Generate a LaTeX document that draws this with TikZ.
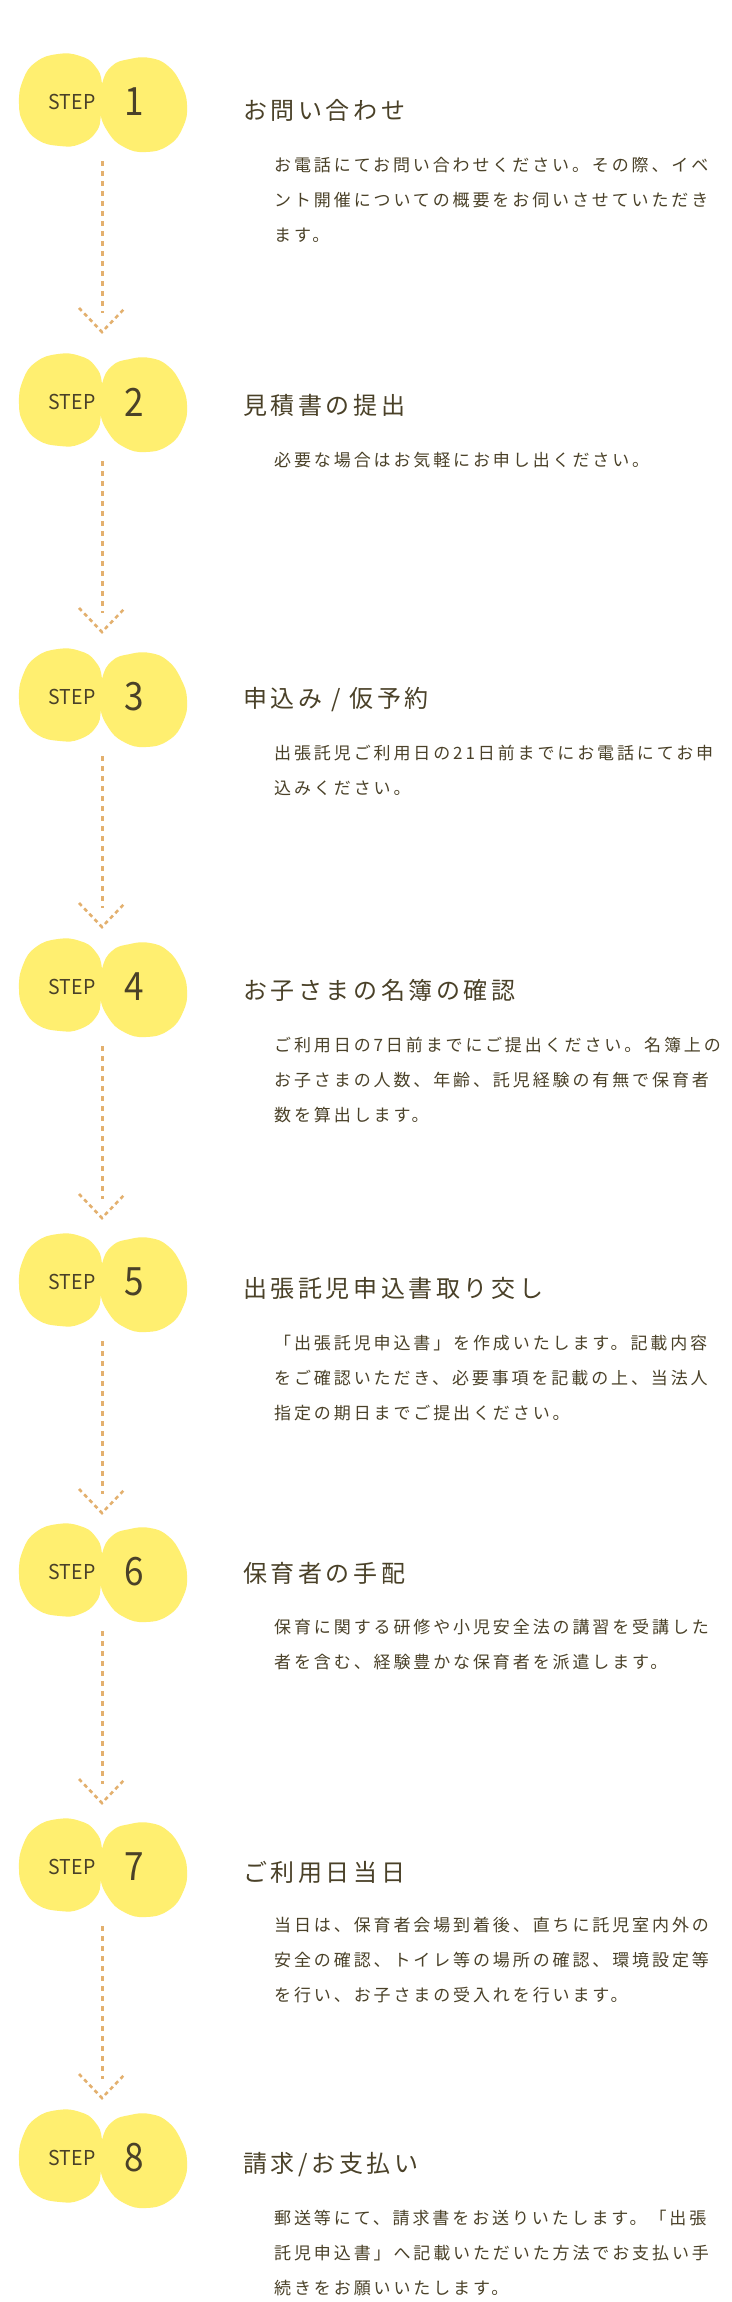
\documentclass[tikz,border=0pt]{standalone}
\usepackage{fontspec}
\setmainfont{Noto Sans CJK JP}
\newfontfamily\jptitle[LetterSpace=15]{Noto Sans CJK JP}
\newfontfamily\jpbody[LetterSpace=17]{Noto Sans CJK JP}
\usetikzlibrary{calc}
\definecolor{blobyellow}{HTML}{FFEF70}
\definecolor{ink}{HTML}{4A4128}
\definecolor{dashc}{HTML}{E3B06E}
\tikzset{
  steplabel/.style={font=\fontsize{20.5}{20.5}\selectfont, text=ink, inner sep=0pt, xscale=0.95},
  stepnum/.style={font=\fontsize{39}{39}\selectfont, text=ink, inner sep=0pt, xscale=0.9},
  titletext/.style={anchor=west, inner sep=0pt, text=ink, font=\jptitle\fontsize{24}{24}\selectfont, text height=21pt, text depth=3pt},
  bodytext/.style={anchor=west, inner sep=0pt, text=ink, font=\jpbody\fontsize{17}{17}\selectfont, text height=15pt, text depth=2pt},
  flowline/.style={draw=dashc, line width=3pt, dash pattern=on 5pt off 5pt},
  flowhead/.style={draw=dashc, line width=2.6pt, dash pattern=on 4pt off 3.5pt},
  blobfill/.style={fill=blobyellow},
}
\newcommand\flowstep[4]{%
  \begin{scope}[shift={(0,#2)}]
    \fill[blobfill] plot[smooth cycle, tension=0.8] coordinates {(58,-48) (80,-46) (95,-36) (102,-18) (101,12) (96,30) (80,42) (60,44) (38,38) (24,22) (19,2) (23,-22) (36,-40)};
    \fill[blobfill] plot[smooth cycle, tension=0.8] coordinates {(112,-36) (130,-43) (150,-44) (168,-36) (181,-18) (187,3) (183,25) (169,43) (146,50) (124,45) (108,30) (100,8) (102,-18)};
  \end{scope}
  \node[steplabel] (step#1) at (72,#2) {STEP};
  \node[stepnum] (num#1) at (134,#2) {#1};
  \node[titletext] (title#1) at (243,#3) {#4};
}
\newcommand\flowarrow[3]{%
  \coordinate (ast#1) at (102,#2);
  \coordinate (atip#1) at (102,#3);
  \draw[flowline] (ast#1) -- ($(atip#1)+(0,-19)$);
  \draw[flowhead] ($(atip#1)+(-23,-24)$) -- (atip#1) -- ($(atip#1)+(23,-24)$);
}
\begin{document}
\begin{tikzpicture}[x=1pt,y=-1pt]
\useasboundingbox[fill=white] (0,0) rectangle (731,2302);

\flowstep{1}{102}{110}{お問い合わせ}
\node[bodytext] (b1a) at (274,165) {お電話にてお問い合わせください。その際、イベ};
\node[bodytext] (b1b) at (274,200) {ント開催についての概要をお伺いさせていただき};
\node[bodytext] (b1c) at (274,235) {ます。};

\flowstep{2}{402}{405}{見積書の提出}
\node[bodytext] (b2a) at (274,460) {必要な場合はお気軽にお申し出ください。};

\flowstep{3}{697}{698}{申込み / 仮予約}
\node[bodytext] (b3a) at (274,753) {出張託児ご利用日の21日前までにお電話にてお申};
\node[bodytext] (b3b) at (274,788) {込みください。};

\flowstep{4}{987}{990}{お子さまの名簿の確認}
\node[bodytext] (b4a) at (274,1045) {ご利用日の7日前までにご提出ください。名簿上の};
\node[bodytext] (b4b) at (274,1080) {お子さまの人数、年齢、託児経験の有無で保育者};
\node[bodytext] (b4c) at (274,1115) {数を算出します。};

\flowstep{5}{1282}{1288}{出張託児申込書取り交し}
\node[bodytext] (b5a) at (274,1343) {「出張託児申込書」を作成いたします。記載内容};
\node[bodytext] (b5b) at (274,1378) {をご確認いただき、必要事項を記載の上、当法人};
\node[bodytext] (b5c) at (274,1413) {指定の期日までご提出ください。};

\flowstep{6}{1572}{1573}{保育者の手配}
\node[bodytext] (b6a) at (274,1627) {保育に関する研修や小児安全法の講習を受講した};
\node[bodytext] (b6b) at (274,1662) {者を含む、経験豊かな保育者を派遣します。};

\flowstep{7}{1867}{1872}{ご利用日当日}
\node[bodytext] (b7a) at (274,1925) {当日は、保育者会場到着後、直ちに託児室内外の};
\node[bodytext] (b7b) at (274,1960) {安全の確認、トイレ等の場所の確認、環境設定等};
\node[bodytext] (b7c) at (274,1995) {を行い、お子さまの受入れを行います。};

\flowstep{8}{2158}{2163}{請求/お支払い}
\node[bodytext] (b8a) at (274,2218) {郵送等にて、請求書をお送りいたします。「出張};
\node[bodytext] (b8b) at (274,2253) {託児申込書」へ記載いただいた方法でお支払い手};
\node[bodytext] (b8c) at (274,2288) {続きをお願いいたします。};

\flowarrow{1}{161}{332}
\flowarrow{2}{461}{632}
\flowarrow{3}{756}{927}
\flowarrow{4}{1046}{1218}
\flowarrow{5}{1341}{1513}
\flowarrow{6}{1631}{1803}
\flowarrow{7}{1926}{2098}
\end{tikzpicture}
\end{document}
